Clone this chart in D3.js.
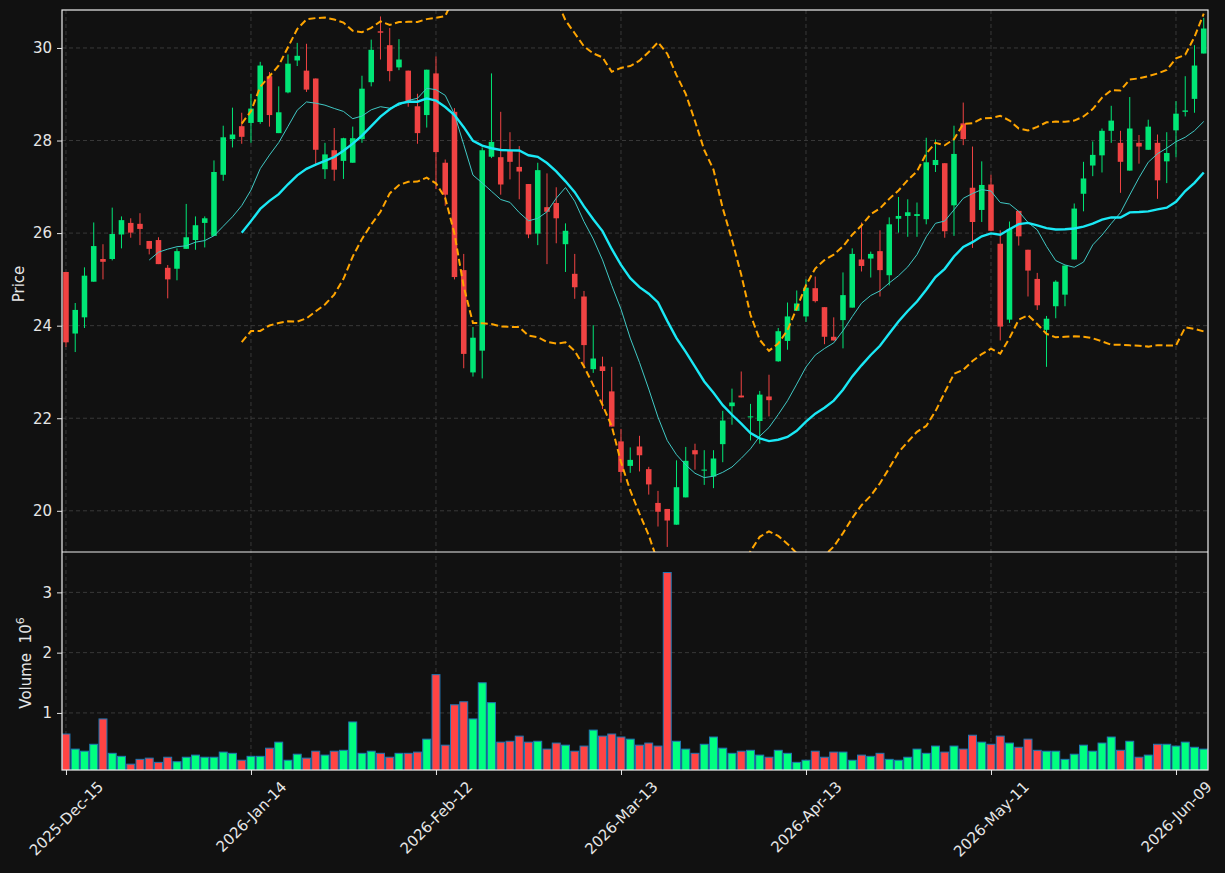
<!DOCTYPE html>
<html>
<head>
<meta charset="utf-8">
<script src="https://cdn.jsdelivr.net/npm/d3@7"></script>
<style>
  body { margin: 0; background: #111111; }
  text { font-family: "DejaVu Sans", sans-serif; }
</style>
</head>
<body>
<svg id="chart" width="1225" height="873"></svg>
<script>
// daily OHLC, one entry per trading day (2025-12-15 .. 2026-06-12)
const opens = [25.16,23.83,24.18,24.95,25.44,25.44,25.97,26.22,26.20,25.83,
  25.85,25.25,25.23,25.66,25.85,26.22,25.94,27.26,28.03,28.31,
  28.38,28.40,29.39,28.16,29.04,29.73,29.51,29.34,27.38,27.79,
  27.56,27.52,28.03,29.26,30.36,30.06,29.58,29.51,28.74,28.55,
  29.45,27.52,28.62,25.20,22.99,23.46,27.65,27.64,27.79,27.43,
  27.06,25.99,26.56,26.65,25.76,25.12,24.63,23.06,23.12,22.58,
  21.50,20.97,21.39,20.90,20.17,20.04,19.70,20.29,21.31,20.88,
  20.74,21.44,22.26,22.49,22.02,21.94,22.47,23.23,23.67,24.32,
  24.20,24.81,24.40,23.76,24.12,24.39,25.43,25.45,25.61,25.09,
  26.31,26.37,26.37,26.30,27.47,27.51,26.60,28.37,26.98,26.50,
  27.05,25.77,24.13,26.48,25.64,25.01,23.91,24.42,24.67,25.43,
  26.85,27.46,27.68,28.21,27.95,27.35,27.95,27.80,27.95,27.55,
  28.22,28.62,28.90,29.88];
const highs = [25.16,24.49,25.26,26.23,25.76,26.55,26.36,26.32,26.43,25.83,
  25.91,25.31,25.67,26.63,26.36,26.36,27.57,28.32,28.71,28.60,
  29.01,29.70,29.48,29.17,29.86,30.11,30.09,29.34,27.95,28.27,
  28.06,28.30,29.40,30.18,30.68,30.43,30.19,29.51,29.01,29.53,
  29.82,27.59,28.70,25.55,23.97,27.85,29.45,28.62,28.18,27.88,
  27.06,27.52,27.29,26.99,26.21,25.55,24.75,24.01,23.33,23.11,
  21.77,21.37,21.62,20.95,20.43,20.04,21.09,21.38,21.45,21.31,
  21.31,22.16,22.64,23.01,22.31,22.59,22.94,23.95,24.50,24.76,
  25.00,25.06,24.40,24.18,25.15,25.67,26.23,25.60,26.06,26.34,
  26.78,26.73,26.66,28.06,28.02,27.51,28.32,28.82,27.87,27.55,
  27.26,26.06,26.25,26.48,25.64,25.14,24.21,24.98,25.30,26.64,
  27.54,27.98,28.26,28.75,28.21,28.94,28.12,28.45,28.13,28.18,
  28.85,29.39,30.06,30.65];
const lows = [23.54,23.43,23.95,24.95,25.00,25.41,25.67,25.90,25.74,25.54,
  25.33,24.59,24.98,25.66,25.64,25.69,25.94,27.13,27.85,27.93,
  27.95,28.36,28.30,28.16,29.02,29.61,29.05,27.49,27.17,27.13,
  27.17,27.52,27.95,29.17,29.75,29.28,29.52,28.73,27.93,28.28,
  26.95,26.59,25.00,23.08,22.90,22.86,27.62,26.83,27.16,26.73,
  25.89,25.74,25.33,25.78,25.16,24.58,23.08,22.98,22.20,21.82,
  20.61,20.82,20.85,20.35,19.66,19.22,19.70,20.29,20.89,20.56,
  20.49,21.05,21.86,22.45,21.52,21.45,22.04,23.22,23.48,24.32,
  24.08,24.50,23.60,23.68,23.51,24.39,25.17,25.04,24.63,24.87,
  26.01,25.92,25.92,26.19,27.32,25.90,25.94,27.90,25.68,26.24,
  26.04,23.68,24.06,25.73,24.63,24.34,23.11,24.16,24.42,25.43,
  26.47,27.23,27.31,27.95,26.87,27.35,27.50,27.80,26.74,27.08,
  27.64,28.52,28.60,29.88];
const closes = [23.64,24.34,25.08,25.72,25.38,25.98,26.28,26.01,26.09,25.66,
  25.33,25.00,25.61,25.91,26.17,26.32,27.32,28.07,28.13,28.08,
  28.69,29.62,28.55,28.61,29.66,29.83,29.10,27.80,27.70,27.37,
  28.05,28.05,29.12,29.96,30.33,29.50,29.75,28.83,28.16,29.53,
  27.75,26.83,25.05,23.39,23.74,27.79,27.97,27.05,27.54,27.33,
  25.97,27.36,26.46,26.32,26.05,24.83,23.58,23.29,23.02,21.82,
  20.84,21.10,21.20,20.57,19.98,19.79,20.51,21.08,21.22,20.89,
  21.13,21.95,22.34,22.45,22.04,22.51,22.39,23.88,24.20,24.48,
  24.82,24.53,23.76,23.68,24.66,25.55,25.29,25.55,25.20,26.19,
  26.37,26.45,26.41,27.53,27.58,26.04,27.71,28.03,26.24,27.04,
  26.05,23.98,26.09,25.93,25.19,24.44,24.15,24.95,25.30,26.53,
  27.18,27.69,28.21,28.43,27.54,28.26,27.87,28.30,27.14,27.73,
  28.58,28.65,29.62,30.42];
// volume in millions
const volumes = [0.65,0.40,0.365,0.48,0.90,0.33,0.28,0.15,0.23,0.25,
  0.18,0.265,0.19,0.265,0.30,0.265,0.265,0.35,0.33,0.215,
  0.28,0.28,0.415,0.515,0.215,0.315,0.25,0.365,0.30,0.365,
  0.38,0.85,0.33,0.365,0.33,0.265,0.33,0.33,0.35,0.565,
  1.635,0.465,1.135,1.185,0.90,1.50,1.17,0.515,0.53,0.615,
  0.515,0.53,0.40,0.50,0.465,0.365,0.45,0.715,0.615,0.65,
  0.60,0.565,0.465,0.50,0.45,3.33,0.53,0.40,0.33,0.48,
  0.60,0.415,0.33,0.365,0.38,0.30,0.265,0.38,0.33,0.18,
  0.215,0.365,0.265,0.35,0.35,0.215,0.30,0.28,0.33,0.23,
  0.215,0.265,0.40,0.33,0.45,0.35,0.45,0.40,0.63,0.515,
  0.48,0.615,0.50,0.43,0.565,0.38,0.365,0.365,0.23,0.315,
  0.465,0.365,0.50,0.60,0.38,0.53,0.265,0.30,0.48,0.48,
  0.45,0.515,0.43,0.40];
const tickIndex = [0, 20, 40, 60, 80, 100, 120];
const tickLabels = ["2025-Dec-15", "2026-Jan-14", "2026-Feb-12", "2026-Mar-13",
  "2026-Apr-13", "2026-May-11", "2026-Jun-09"];
const priceTicks = [20, 22, 24, 26, 28, 30];
const volumeTicks = [1, 2, 3];

const upColor = "#00e676", downColor = "#f04343";
const volUp = "#00ff80", volDown = "#ff4444";
const textColor = "#e6e6e6", gridColor = "#3d3d3d";
const fontPx = "15px";

const svg = d3.select("#chart");
svg.append("rect").attr("width", 1225).attr("height", 873).attr("fill", "#111111");

const left = 62, right = 1208;
const pTop = 10, pBottom = 552, vTop = 552, vBottom = 770;

const x = d3.scaleLinear().domain([-0.43, 123.46]).range([left, right]);
const y = d3.scaleLinear().domain([19.11, 30.82]).range([pBottom, pTop]);
const yv = d3.scaleLinear().domain([0.053, 3.67]).range([vBottom, vTop]);

const n = closes.length;
const idx = d3.range(n);

function rolling(win, fn) {
	return idx.map((i) => (i < win - 1 ? null : fn(closes.slice(i - win + 1, i + 1))));
}
const ma10 = rolling(10, d3.mean);
const ma20 = rolling(20, d3.mean);
const sd20 = rolling(20, d3.deviation);
const bbUp = idx.map((i) => (ma20[i] == null ? null : ma20[i] + 2 * sd20[i]));
const bbLo = idx.map((i) => (ma20[i] == null ? null : ma20[i] - 2 * sd20[i]));

const defs = svg.append("defs");
defs.append("clipPath").attr("id", "clipP")
	.append("rect").attr("x", left).attr("y", pTop).attr("width", right - left).attr("height", pBottom - pTop);
defs.append("clipPath").attr("id", "clipV")
	.append("rect").attr("x", left).attr("y", vTop).attr("width", right - left).attr("height", vBottom - vTop);

// grids
const grid = svg.append("g").attr("stroke", gridColor).attr("stroke-dasharray", "4,3").attr("stroke-width", 0.9);
tickIndex.forEach((t) => {
	grid.append("line").attr("x1", x(t)).attr("x2", x(t)).attr("y1", pTop).attr("y2", vBottom);
});
priceTicks.forEach((t) => {
	grid.append("line").attr("x1", left).attr("x2", right).attr("y1", y(t)).attr("y2", y(t));
});
volumeTicks.forEach((t) => {
	grid.append("line").attr("x1", left).attr("x2", right).attr("y1", yv(t)).attr("y2", yv(t));
});

// candles
const priceG = svg.append("g").attr("clip-path", "url(#clipP)");
const bodyW = 0.6 * (x(1) - x(0));
const candle = priceG.selectAll("g.candle").data(idx).join("g").attr("class", "candle");
candle.append("line")
	.attr("x1", (i) => x(i)).attr("x2", (i) => x(i))
	.attr("y1", (i) => y(highs[i])).attr("y2", (i) => y(lows[i]))
	.attr("stroke", (i) => (closes[i] >= opens[i] ? upColor : downColor))
	.attr("stroke-width", 1);
candle.append("rect")
	.attr("x", (i) => x(i) - bodyW / 2)
	.attr("width", bodyW)
	.attr("y", (i) => y(Math.max(opens[i], closes[i])))
	.attr("height", (i) => Math.max(1, Math.abs(y(opens[i]) - y(closes[i]))))
	.attr("fill", (i) => (closes[i] >= opens[i] ? upColor : downColor));

// moving averages and bands
const line = (arr) => d3.line().defined((i) => arr[i] != null).x((i) => x(i)).y((i) => y(arr[i]))(idx);
priceG.append("path").attr("d", line(bbUp)).attr("fill", "none")
	.attr("stroke", "#ffa500").attr("stroke-width", 2).attr("stroke-dasharray", "7,3.5");
priceG.append("path").attr("d", line(bbLo)).attr("fill", "none")
	.attr("stroke", "#ffa500").attr("stroke-width", 2).attr("stroke-dasharray", "7,3.5");
priceG.append("path").attr("d", line(ma10)).attr("fill", "none")
	.attr("stroke", "#40c8c4").attr("stroke-width", 1);
priceG.append("path").attr("d", line(ma20)).attr("fill", "none")
	.attr("stroke", "#1ae8f5").attr("stroke-width", 2.4);

// volume bars
const volG = svg.append("g").attr("clip-path", "url(#clipV)");
const volW = 0.86 * (x(1) - x(0));
volG.selectAll("rect").data(idx).join("rect")
	.attr("x", (i) => x(i) - volW / 2)
	.attr("width", volW)
	.attr("y", (i) => yv(volumes[i]))
	.attr("height", (i) => yv(yv.domain()[0]) - yv(volumes[i]) + 2)
	.attr("fill", (i) => (closes[i] >= opens[i] ? volUp : volDown))
	.attr("stroke", "#1f77b4")
	.attr("stroke-width", 1);

// axes
function styleAxis(g) {
	g.select(".domain").remove();
	g.selectAll(".tick line").attr("stroke", textColor);
	g.selectAll(".tick text").attr("fill", textColor).style("font-size", fontPx);
}
svg.append("g").attr("transform", `translate(${left},0)`)
	.call(d3.axisLeft(y).tickValues(priceTicks).tickSize(5).tickPadding(5))
	.call(styleAxis);
svg.append("g").attr("transform", `translate(${left},0)`)
	.call(d3.axisLeft(yv).tickValues(volumeTicks).tickSize(5).tickPadding(5).tickFormat(d3.format("d")))
	.call(styleAxis);
const xAxis = svg.append("g").attr("transform", `translate(0,${vBottom})`)
	.call(d3.axisBottom(x).tickValues(tickIndex).tickSize(5).tickFormat((d, i) => tickLabels[i]))
	.call(styleAxis);
xAxis.selectAll(".tick text").each(function () {
	const t = d3.select(this);
	const w = this.getComputedTextLength();
	const h = 15;
	const half = (w + h) / (2 * Math.SQRT2);
	t.attr("y", null).attr("dy", null)
		.attr("text-anchor", "middle")
		.attr("dominant-baseline", "central")
		.attr("transform", `translate(0,${9 + half}) rotate(-45)`);
});

// spines
svg.append("rect").attr("x", left).attr("y", pTop).attr("width", right - left).attr("height", vBottom - pTop)
	.attr("fill", "none").attr("stroke", "#eeeeee").attr("stroke-width", 1.2);
svg.append("line").attr("x1", left).attr("x2", right).attr("y1", pBottom).attr("y2", pBottom)
	.attr("stroke", "#eeeeee").attr("stroke-width", 1.2);

// labels
svg.append("text").attr("transform", "translate(24,284) rotate(-90)")
	.attr("text-anchor", "middle").attr("fill", textColor).style("font-size", fontPx).text("Price");
const vl = svg.append("text").attr("transform", "translate(31,663) rotate(-90)")
	.attr("text-anchor", "middle").attr("fill", textColor).style("font-size", fontPx);
vl.append("tspan").text("Volume\u00a0\u00a010");
vl.append("tspan").attr("dy", -7).style("font-size", "11px").text("6");
</script>
</body>
</html>
